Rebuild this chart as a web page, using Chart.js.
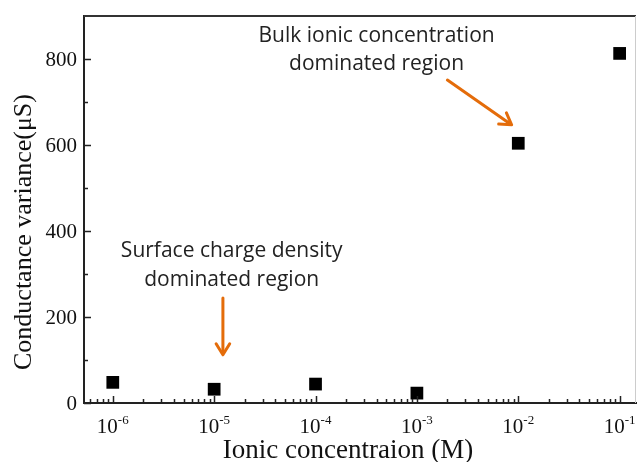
<!DOCTYPE html>
<html>
<head>
<meta charset="utf-8">
<script src="https://cdn.jsdelivr.net/npm/chart.js@4.4.1/dist/chart.umd.min.js"></script>
<style>
  html, body { margin: 0; padding: 0; background: #fff; }
</style>
</head>
<body>
<canvas id="myChart" width="637" height="462"></canvas>
<script>
// data
const concentrations = [1e-6, 1e-5, 1e-4, 1e-3, 1e-2, 1e-1]
const variances = [48, 32, 44, 23, 604, 813]

const xTickExponents = [-6, -5, -4, -3, -2, -1]
const yTickValues = [0, 200, 400, 600, 800]
const yMinorValues = [100, 300, 500, 700]

const xTitle = "Ionic concentraion (M)"
const yTitle = "Conductance variance(\u03bcS)"

// notes and arrows, placed in data units
const noteLines = [
    ["Bulk ionic concentration", "dominated region"],
    ["Surface charge density", "dominated region"],
]
const noteX = [4.0e-4, 1.49e-5]
const noteY = [[853, 789], [353, 286]]
const arrowFrom = [[2.0e-3, 751], [1.22e-5, 244]]
const arrowTo = [[8.6e-3, 647], [1.22e-5, 112]]

const orange = "#e46c0a"

const drawArrow = (ctx, x1, y1, x2, y2) => {
    const ang = Math.atan2(y2 - y1, x2 - x1)
    const head = 13
    ctx.save()
    ctx.strokeStyle = orange
    ctx.lineWidth = 3
    ctx.lineCap = "round"
    ctx.lineJoin = "round"
    ctx.beginPath()
    ctx.moveTo(x1, y1)
    ctx.lineTo(x2 - Math.cos(ang) * 2, y2 - Math.sin(ang) * 2)
    ctx.stroke()
    ctx.beginPath()
    ctx.moveTo(x2 - head * Math.cos(ang - 0.55), y2 - head * Math.sin(ang - 0.55))
    ctx.lineTo(x2, y2)
    ctx.lineTo(x2 - head * Math.cos(ang + 0.55), y2 - head * Math.sin(ang + 0.55))
    ctx.stroke()
    ctx.restore()
}

const decorations = {
    id: "decorations",
    afterDraw(chart) {
        const ctx = chart.ctx
        const xs = chart.scales.x
        const ys = chart.scales.y
        const area = chart.chartArea
        ctx.save()

        // top and right frame
        ctx.strokeStyle = "#333"
        ctx.lineWidth = 2
        ctx.beginPath()
        ctx.moveTo(area.left, area.top)
        ctx.lineTo(area.right, area.top)
        ctx.stroke()
        ctx.strokeStyle = "#ccc"
        ctx.lineWidth = 1
        ctx.beginPath()
        ctx.moveTo(area.right - 0.5, area.top)
        ctx.lineTo(area.right - 0.5, area.bottom)
        ctx.stroke()

        // inward ticks
        ctx.strokeStyle = "#222"
        ctx.lineWidth = 1.5
        ctx.beginPath()
        for (let e = -7; e <= 0; e++) {
            for (let m = 1; m <= 9; m++) {
                const v = m * Math.pow(10, e)
                if (v < xs.min || v > xs.max) continue
                const px = Math.round(xs.getPixelForValue(v)) + 0.5
                const len = m === 1 ? 7 : 4
                ctx.moveTo(px, area.bottom)
                ctx.lineTo(px, area.bottom - len)
            }
        }
        yTickValues.forEach(v => {
            const py = Math.round(ys.getPixelForValue(v)) + 0.5
            ctx.moveTo(area.left, py)
            ctx.lineTo(area.left + 7, py)
        })
        yMinorValues.forEach(v => {
            const py = Math.round(ys.getPixelForValue(v)) + 0.5
            ctx.moveTo(area.left, py)
            ctx.lineTo(area.left + 4, py)
        })
        ctx.stroke()

        // tick labels
        ctx.fillStyle = "#111"
        ctx.textAlign = "right"
        ctx.textBaseline = "middle"
        ctx.font = "21px 'Liberation Serif'"
        yTickValues.forEach(v => {
            ctx.fillText(String(v), area.left - 7, ys.getPixelForValue(v) + 1)
        })

        ctx.textBaseline = "alphabetic"
        ctx.textAlign = "left"
        xTickExponents.forEach(e => {
            const px = xs.getPixelForValue(Math.pow(10, e))
            const base = "10"
            const sup = String(e)
            ctx.font = "21px 'Liberation Serif'"
            const wb = ctx.measureText(base).width
            ctx.font = "13px 'Liberation Serif'"
            const ws = ctx.measureText(sup).width
            const start = px - (wb + ws) / 2
            ctx.font = "21px 'Liberation Serif'"
            ctx.fillText(base, start, area.bottom + 30)
            ctx.font = "13px 'Liberation Serif'"
            ctx.fillText(sup, start + wb, area.bottom + 21)
        })

        // axis titles
        ctx.font = "27px 'Liberation Serif'"
        ctx.textAlign = "center"
        ctx.fillText(xTitle, 348, 458)
        ctx.save()
        ctx.translate(31, 232)
        ctx.rotate(-Math.PI / 2)
        ctx.font = "26px 'Liberation Serif'"
        ctx.fillText(yTitle, 0, 0)
        ctx.restore()

        // notes
        ctx.font = "21px 'Open Sans'"
        ctx.fillStyle = "#222"
        ctx.textBaseline = "middle"
        noteLines.forEach((lines, i) => {
            const px = xs.getPixelForValue(noteX[i])
            lines.forEach((t, j) => {
                ctx.fillText(t, px, ys.getPixelForValue(noteY[i][j]))
            })
        })

        // arrows
        arrowFrom.forEach((a, i) => {
            const b = arrowTo[i]
            drawArrow(ctx,
                xs.getPixelForValue(a[0]), ys.getPixelForValue(a[1]),
                xs.getPixelForValue(b[0]), ys.getPixelForValue(b[1]))
        })

        ctx.restore()
    }
}

const ctx = document.querySelector("#myChart").getContext("2d")

new Chart(ctx, {
    type: "scatter",
    data: {
        datasets: [
            {
                data: concentrations.map((c, i) => ({ x: c, y: variances[i] })),
                pointStyle: "rect",
                pointRadius: 9,
                pointHoverRadius: 9,
                backgroundColor: "#000",
                borderColor: "#000",
                borderWidth: 0,
            },
        ],
    },
    options: {
        responsive: false,
        animation: false,
        devicePixelRatio: 1,
        layout: { autoPadding: false, padding: { top: 16, right: 1, left: 0, bottom: 0 } },
        scales: {
            x: {
                type: "logarithmic",
                min: 5.2e-7,
                max: 0.145,
                grid: { display: false },
                ticks: { display: false },
                border: { color: "#222", width: 2 },
                afterFit: (s) => { s.height = 59 },
            },
            y: {
                type: "linear",
                min: 0,
                max: 900,
                grid: { display: false },
                ticks: { display: false },
                border: { color: "#222", width: 2 },
                afterFit: (s) => { s.width = 84 },
            },
        },
        plugins: {
            legend: { display: false },
            tooltip: { enabled: false },
        },
    },
    plugins: [decorations],
})
</script>
</body>
</html>
